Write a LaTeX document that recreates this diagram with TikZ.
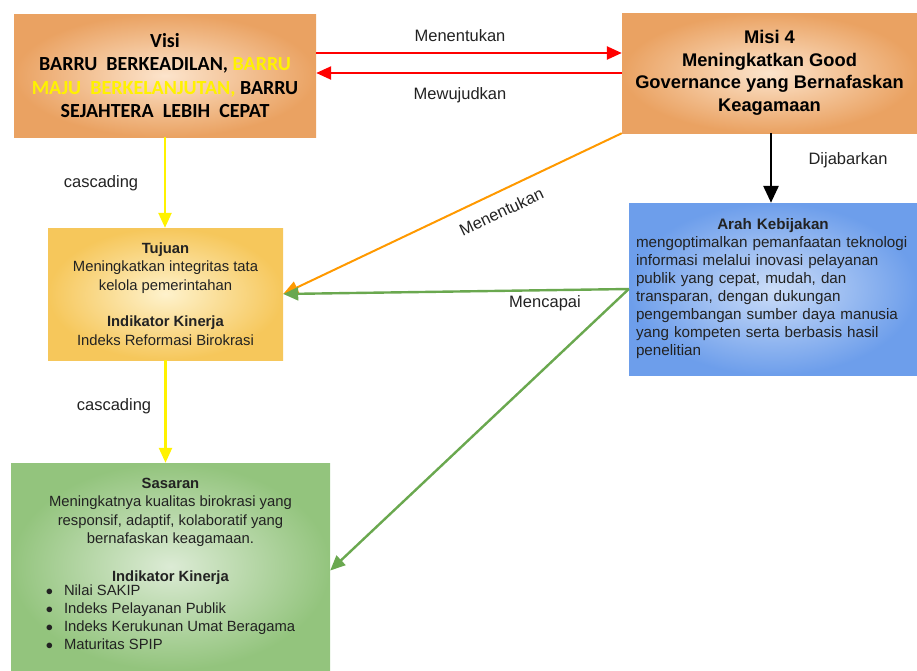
\documentclass[tikz,border=0pt]{standalone}
\usepackage{fontspec}
\setmainfont{Liberation Sans}
\newfontfamily\visifont{Carlito}
\usetikzlibrary{arrows.meta,positioning,calc}
\definecolor{rporange}{HTML}{EAA262}
\definecolor{rporangein}{HTML}{FCE4CC}
\definecolor{rpgold}{HTML}{F6C75B}
\definecolor{rpgoldin}{HTML}{FEF2CC}
\definecolor{rpblue}{HTML}{6D9EEB}
\definecolor{rpbluein}{HTML}{CCDDF8}
\definecolor{rpgreen}{HTML}{93C47D}
\definecolor{rpgreenin}{HTML}{DCEBD5}
\definecolor{rparrgreen}{HTML}{6AA84F}
\definecolor{rparrorange}{HTML}{FF9900}
\definecolor{rptext}{HTML}{222222}

\begin{document}
\begin{tikzpicture}[x=1pt,y=-1pt,
  rpbox/.style={rectangle,inner sep=0pt,align=center,shading=radial,
    font=\fontsize{14.8}{18.4}\selectfont,text=rptext},
  rpbig/.style={font=\fontsize{18.3}{22.6}\selectfont\bfseries,text=black},
  rparr/.style={-{Triangle[length=15pt,width=13pt]},line width=2.4pt},
  rplabel/.style={font=\fontsize{16.5}{19}\selectfont,text=rptext}
]
  \useasboundingbox (0,0) rectangle (917,670);

  % Visi
  \node[rpbox,inner color=rporangein,outer color=rporange,
    font=\visifont\fontsize{20}{23.5}\selectfont\bfseries,text=black,
    minimum width=302pt,minimum height=123pt] (visi) at (165,75.5) {
    Visi\\
    BARRU\ \ BERKEADILAN, {\color{yellow}BARRU}\\
    {\color{yellow}MAJU\ \ BERKELANJUTAN,} BARRU\\
    SEJAHTERA\ \ LEBIH\ \ CEPAT};

  % Misi 4
  \node[rpbox,rpbig,inner color=rporangein,outer color=rporange,
    minimum width=295pt,minimum height=120pt] (misi) at (769.5,73) {
    Misi 4\\
    Meningkatkan Good\\
    Governance yang Bernafaskan\\
    Keagamaan};

  % Tujuan
  \node[rpbox,inner color=rpgoldin,outer color=rpgold,
    minimum width=235pt,minimum height=132pt] (tujuan) at (165.5,294) {
    \textbf{Tujuan}\\
    Meningkatkan integritas tata\\
    kelola pemerintahan\\[18.4pt]
    \textbf{Indikator Kinerja}\\
    Indeks Reformasi Birokrasi};

  % Arah Kebijakan
  \node[rpbox,inner color=rpbluein,outer color=rpblue,align=left,text width=274pt,
    font=\fontsize{15.2}{18}\selectfont,
    minimum width=288pt,minimum height=172pt] (arah) at (773,289) {
    \makebox[\linewidth]{\bfseries Arah Kebijakan}\\
    mengoptimalkan pemanfaatan teknologi\\
    informasi melalui inovasi pelayanan\\
    publik yang cepat, mudah, dan\\
    transparan, dengan dukungan\\
    pengembangan sumber daya manusia\\
    yang kompeten serta berbasis hasil\\
    penelitian};

  % Sasaran
  \node[rpbox,inner color=rpgreenin,outer color=rpgreen,
    minimum width=319pt,minimum height=207pt] (sasaran) at (170.5,566.5) {
    \textbf{Sasaran}\\
    Meningkatnya kualitas birokrasi yang\\
    responsif, adaptif, kolaboratif yang\\
    bernafaskan keagamaan.\\[19pt]
    \textbf{Indikator Kinerja}\\[-2pt]
    \begin{tabular}{@{}l@{\hspace{11pt}}l@{}}
      {\Large$\bullet$} & Nilai SAKIP\\[-0.6pt]
      {\Large$\bullet$} & Indeks Pelayanan Publik\\[-0.6pt]
      {\Large$\bullet$} & Indeks Kerukunan Umat Beragama\\[-0.6pt]
      {\Large$\bullet$} & Maturitas SPIP
    \end{tabular}};

  % Visi <-> Misi
  \draw[rparr,red] ([yshift=22.5pt]visi.east) -- ([yshift=22.5pt]visi.east -| misi.west);
  \draw[rparr,red] ([yshift=2.5pt]visi.east -| misi.west) -- ([yshift=2.5pt]visi.east);
  \node[rplabel] (lblmenentukan) at (460,36) {Menentukan};
  \node[rplabel] (lblmewujudkan) at (460,95) {Mewujudkan};

  % cascading
  \draw[rparr,yellow] (visi.south) -- (visi.south |- tujuan.north);
  \node[rplabel] (lblcasc1) at (101,183) {cascading};
  \draw[rparr,yellow] (tujuan.south) -- (tujuan.south |- sasaran.north);
  \node[rplabel] (lblcasc2) at (114,406) {cascading};

  % Misi -> Arah Kebijakan
  \draw[rparr,black,line width=2.8pt,-{Triangle[length=17pt,width=15pt]}] ([xshift=1.5pt]misi.south) -- ([xshift=1.5pt]misi.south |- arah.north);
  \node[rplabel] (lbldijabarkan) at (848,160) {Dijabarkan};

  % Misi -> Tujuan
  \draw[rparr,rparrorange,line width=2pt] (misi.south west) -- (tujuan.east)
    node[rplabel,pos=0.38,sloped,below=9pt] {Menentukan};

  % Arah -> Tujuan, Sasaran
  \draw[rparr,rparrgreen] (arah.west) -- (tujuan.east);
  \node[rplabel] (lblmencapai) at (545,303) {Mencapai};
  \draw[rparr,rparrgreen] (arah.west) -- ([yshift=-4pt]sasaran.east);
\end{tikzpicture}
\end{document}
